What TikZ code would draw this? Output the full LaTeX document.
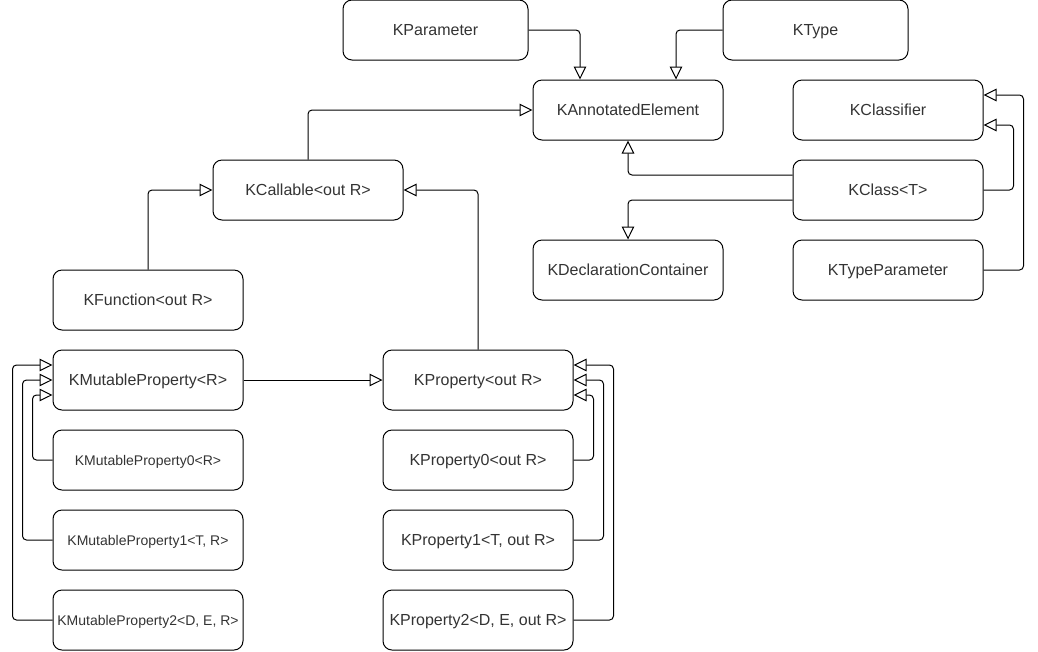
\documentclass[tikz,border=0pt]{standalone}
\usepackage{fontspec}
\setmainfont{Liberation Sans}
\usetikzlibrary{arrows.meta}

\definecolor{textgray}{HTML}{333333}

\tikzset{
    cls/.style={draw, rounded corners=6.75pt, line width=0.75pt, minimum width=142.5pt,
        minimum height=45pt, inner sep=0pt, text height=0.82em, text depth=0pt,
        text=textgray, font=\fontsize{12}{14}\selectfont},
    clssmall/.style={cls, font=\fontsize{10.5}{12}\selectfont},
    inherit/.style={-{Triangle[open, length=9.75pt, width=9.5pt]}, line width=0.75pt, rounded corners=3pt},
}

\begin{document}
\begin{tikzpicture}[x=0.75pt, y=-0.75pt]
            \useasboundingbox (0,0) rectangle (1038,651);

            \node[cls, minimum width=138.75pt] (param) at (435.5,30) {KParameter};
            \node[cls, minimum width=138.75pt] (ktype) at (815.5,30) {KType};
            \node[cls] (annot) at (628,110) {KAnnotatedElement};
            \node[cls] (classifier) at (888,110) {KClassifier};
            \node[cls] (callable) at (308,190) {KCallable<out R>};
            \node[cls] (kclass) at (888,190) {KClass<T>};
            \node[cls] (decl) at (628,270) {KDeclarationContainer};
            \node[cls] (typeparam) at (888,270) {KTypeParameter};
            \node[cls] (function) at (148,300) {KFunction<out R>};

            \node[cls] (mutprop) at (148,380) {KMutableProperty<R>};
            \node[clssmall] (mutprop0) at (148,460) {KMutableProperty0<R>};
            \node[clssmall] (mutprop1) at (148,540) {KMutableProperty1<T, R>};
            \node[clssmall] (mutprop2) at (148,620) {KMutableProperty2<D, E, R>};

            \node[cls] (prop) at (478,380) {KProperty<out R>};
            \node[cls] (prop0) at (478,460) {KProperty0<out R>};
            \node[cls] (prop1) at (478,540) {KProperty1<T, out R>};
            \node[cls] (prop2) at (478,620) {KProperty2<D, E, out R>};

            \draw[inherit] (param.east) -| ([xshift=-36pt]annot.north);
            \draw[inherit] (ktype.west) -| ([xshift=36pt]annot.north);
            \draw[inherit] (callable.north) |- (annot.west);
            \draw[inherit] ([yshift=11.25pt]kclass.west) -| (annot.south);
            \draw[inherit] ([yshift=-7.5pt]kclass.west) -| (decl.north);
            \draw[inherit] (kclass.east) -- ++(22.5pt,0) |- ([yshift=-11.25pt]classifier.east);
            \draw[inherit] (typeparam.east) -- ++(30pt,0) |- ([yshift=11.25pt]classifier.east);

            \draw[inherit] (function.north) |- (callable.west);
            \draw[inherit] (prop.north) |- (callable.east);
            \draw[inherit] (mutprop.east) -- (prop.west);

            \draw[inherit] (mutprop0.west) -- ++(-15pt,0) |- ([yshift=-11.25pt]mutprop.west);
            \draw[inherit] (mutprop1.west) -- ++(-22.5pt,0) |- (mutprop.west);
            \draw[inherit] (mutprop2.west) -- ++(-30pt,0) |- ([yshift=11.25pt]mutprop.west);

            \draw[inherit] (prop0.east) -- ++(15pt,0) |- ([yshift=-11.25pt]prop.east);
            \draw[inherit] (prop1.east) -- ++(22.5pt,0) |- (prop.east);
            \draw[inherit] (prop2.east) -- ++(30pt,0) |- ([yshift=11.25pt]prop.east);
            %\draw[inherit] (function.south) -- (mutprop.north);

        \end{tikzpicture}
\end{document}
